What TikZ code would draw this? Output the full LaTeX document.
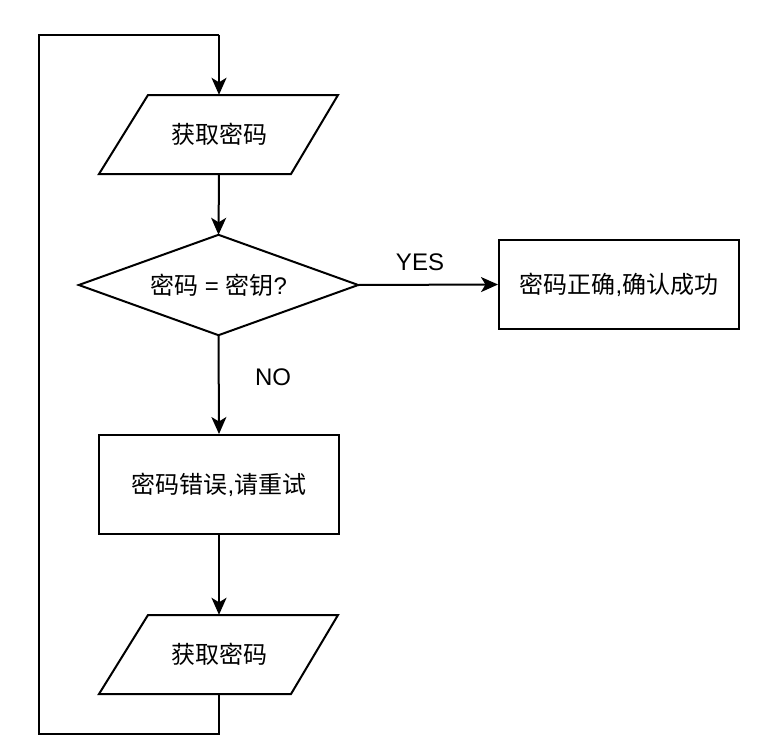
\documentclass[tikz,border=0pt]{standalone}
\usepackage{fontspec}
\setmainfont{Liberation Sans}
\newfontfamily\cjk{Noto Sans CJK SC}
\usetikzlibrary{shapes.geometric,arrows.meta}
\begin{document}
\begin{tikzpicture}[x=1pt,y=-1pt,
  every node/.style={font=\fontsize{24}{28}\selectfont},
  line/.style={line width=2pt},
  arr/.style={line width=2pt,-{Stealth[length=17pt,width=15pt,inset=4.5pt]}},
  pbox/.style={rectangle,minimum width=240pt,minimum height=79pt,inner sep=0pt},
  rbox/.style={rectangle,draw,line width=2pt,inner sep=0pt},
  lbl/.style={inner sep=0pt}]
\useasboundingbox (0,0) rectangle (776,752);
% top parallelogram
\node[pbox] (p1) at (219,134.5) {\cjk 获取密码};
\draw[line,line join=miter] (148,95) -- (338,95) -- (291,174) -- (99,174) -- cycle;
% diamond
\node[rectangle,minimum width=279pt,minimum height=100pt,inner sep=0pt] (d) at (218.5,285) {{\cjk 密码} = {\cjk 密钥}?};
\draw[line,line join=miter] (d.north) -- (d.east) -- (d.south) -- (d.west) -- cycle;
% right box
\node[rbox,minimum width=240pt,minimum height=89pt] (ok) at (619,284.5) {\cjk 密码正确{\rmfamily ,}确认成功};
% error box
\node[rbox,minimum width=240pt,minimum height=99pt] (err) at (219,484.5) {\cjk 密码错误{\rmfamily ,}请重试};
% bottom parallelogram
\node[pbox] (p2) at (219,654.5) {\cjk 获取密码};
\draw[line,line join=miter] (148,615) -- (338,615) -- (291,694) -- (99,694) -- cycle;
% connectors
\coordinate (c1) at (219,734);
\coordinate (c2) at (39,734);
\coordinate (c3) at (39,35);
\coordinate (c4) at (219,35);
\draw[arr] (p1.south) -- (d.north);
\draw[arr] (d.east) -- (ok.west);
\draw[arr] (d.south) -- (err.north);
\draw[arr] (err.south) -- (p2.north);
\draw[line] (p2.south) -- (c1) -- (c2) -- (c3) -- (c4);
\draw[arr] (c4) -- (p1.north);
% labels
\node[lbl] (yes) at (420,262) {YES};
\node[lbl] (no) at (273,377) {NO};
\end{tikzpicture}
\end{document}
